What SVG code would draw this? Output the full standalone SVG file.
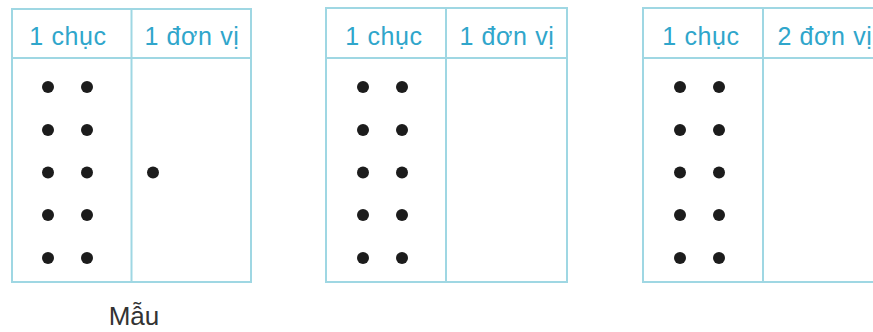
<svg xmlns="http://www.w3.org/2000/svg" width="873" height="332" viewBox="0 0 873 332">
<style>
.frame{fill:none;stroke:#9fd7e3;stroke-width:2}
.hd{font-family:"Liberation Sans",Arial,sans-serif;font-size:25px;letter-spacing:0.6px;fill:#30a6cb;text-anchor:middle}
.dot{fill:#1c1c1c}
.cap{font-family:"Liberation Sans",Arial,sans-serif;font-size:26px;fill:#333;text-anchor:middle}
</style>
<defs>
<g id="ten">
<circle class="dot" cx="0" cy="87" r="6"/><circle class="dot" cx="39" cy="87" r="6"/>
<circle class="dot" cx="0" cy="130" r="6"/><circle class="dot" cx="39" cy="130" r="6"/>
<circle class="dot" cx="0" cy="172.5" r="6"/><circle class="dot" cx="39" cy="172.5" r="6"/>
<circle class="dot" cx="0" cy="215" r="6"/><circle class="dot" cx="39" cy="215" r="6"/>
<circle class="dot" cx="0" cy="258" r="6"/><circle class="dot" cx="39" cy="258" r="6"/>
</g>
</defs>
<rect width="873" height="332" fill="#ffffff"/>
<g id="table1">
<rect class="frame" x="12" y="9" width="239" height="273"/>
<line class="frame" x1="12" y1="58" x2="251" y2="58"/>
<line class="frame" x1="131.5" y1="9" x2="131.5" y2="282"/>
<text class="hd" x="68" y="45">1 chục</text>
<text class="hd" x="192" y="45">1 đơn vị</text>
<use href="#ten" x="48" y="0"/>
<circle class="dot" cx="153" cy="172.5" r="6"/>
<text class="cap" x="134" y="325">Mẫu</text>
</g>
<g id="table2">
<rect class="frame" x="326" y="8" width="241" height="274"/>
<line class="frame" x1="326" y1="58" x2="567" y2="58"/>
<line class="frame" x1="446" y1="8" x2="446" y2="282"/>
<text class="hd" x="384" y="45">1 chục</text>
<text class="hd" x="507" y="45">1 đơn vị</text>
<use href="#ten" x="363" y="0"/>
</g>
<g id="table3">
<rect class="frame" x="643" y="8" width="241" height="274"/>
<line class="frame" x1="643" y1="58" x2="884" y2="58"/>
<line class="frame" x1="763" y1="8" x2="763" y2="282"/>
<text class="hd" x="701" y="45">1 chục</text>
<text class="hd" x="825" y="45">2 đơn vị</text>
<use href="#ten" x="680" y="0"/>
</g>
<g id="connectors"/>
</svg>
